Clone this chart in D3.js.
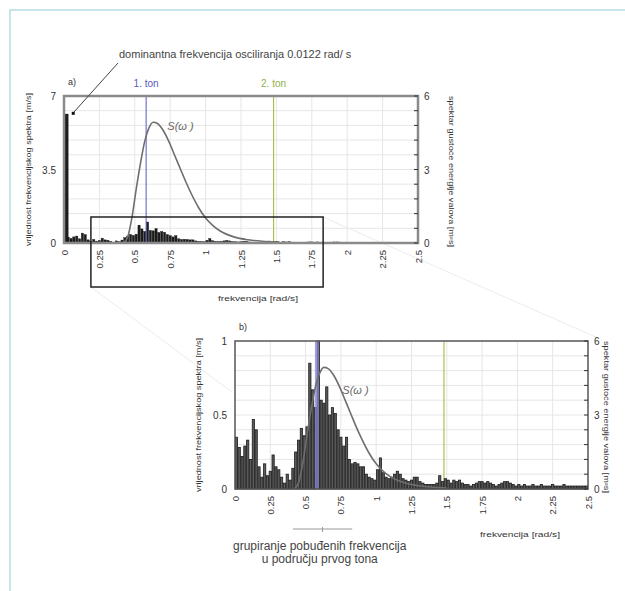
<!DOCTYPE html>
<html>
<head>
<meta charset="utf-8">
<script src="https://cdn.jsdelivr.net/npm/d3@7"></script>
<style>
body{margin:0;background:#fff;}
svg text{font-family:"Liberation Sans",Arial,sans-serif;fill:#333;}
</style>
</head>
<body>
<div id="viz"></div>
<script>
// frequency bins (rad/s), step 0.02
var freqStep=0.02;
var amplitudes=[
0.35,0.28,0.22,0.29,0.33,0.20,0.47,0.40,0.15,0.08,
0.17,0.09,0.12,0.23,0.15,0.13,0.08,0.04,0.10,0.06,
0.14,0.25,0.33,0.41,0.36,0.42,0.85,0.67,0.55,1.00,
0.60,0.58,0.69,0.50,0.55,0.51,0.40,0.35,0.29,0.35,
0.20,0.17,0.18,0.17,0.15,0.15,0.10,0.08,0.07,0.06,
0.13,0.21,0.11,0.08,0.07,0.08,0.10,0.12,0.10,0.07,
0.06,0.05,0.06,0.08,0.08,0.05,0.04,0.03,0.03,0.03,
0.03,0.04,0.09,0.05,0.07,0.06,0.04,0.06,0.05,0.06,
0.04,0.03,0.03,0.02,0.03,0.04,0.05,0.05,0.04,0.05,
0.04,0.03,0.02,0.03,0.04,0.05,0.05,0.04,0.03,0.02,
0.03,0.02,0.03,0.02,0.02,0.03,0.02,0.02,0.03,0.02,
0.02,0.02,0.03,0.02,0.02,0.02,0.03,0.02,0.02,0.02,
0.02,0.02,0.02,0.02,0.02];
var dominantFreq=0.0122;
var dominantAmp=6.15;

// wave energy spectrum S(w)
var specOmega=[0.42,0.45,0.48,0.51,0.54,0.57,0.60,0.63,0.66,0.70,0.74,0.78,0.82,0.86,0.90,0.95,1.00,1.05,1.10,1.20,1.30,1.40,1.50];
var specS=[0,0.25,1.05,2.2,3.25,4.15,4.7,4.93,4.88,4.6,4.15,3.6,3.05,2.5,2.0,1.45,1.02,0.72,0.5,0.25,0.13,0.07,0.04];

var tone1=0.58, tone2=1.48;
var xTicks=[0,0.25,0.5,0.75,1,1.25,1.5,1.75,2,2.25,2.5];

var width=625, height=591;
var svg=d3.select("#viz").append("svg").attr("width",width).attr("height",height);

// light frame
svg.append("path").attr("d","M10,591 L10,10 L625,10").attr("fill","none")
  .attr("stroke","#b7dde2").attr("stroke-width",1.5);

var bars=amplitudes.map(function(v,i){return {f:i*freqStep,v:v};});

function panel(cfg){
  var g=svg.append("g");
  var x=d3.scaleLinear().domain([0,2.5]).range([cfg.x0,cfg.x1]);
  var yL=d3.scaleLinear().domain([0,cfg.leftMax]).range([cfg.y1,cfg.y0]);
  var yR=d3.scaleLinear().domain([0,6]).range([cfg.y1,cfg.y0]);

  // grid
  g.selectAll(".vg").data(xTicks.slice(1,-1)).enter().append("line")
    .attr("x1",function(d){return x(d);}).attr("x2",function(d){return x(d);})
    .attr("y1",cfg.y0).attr("y2",cfg.y1).attr("stroke","#e6e6e6").attr("stroke-width",1);
  var hg=d3.range(1,10).map(function(i){return i*0.6;});
  g.selectAll(".hg").data(hg).enter().append("line")
    .attr("x1",cfg.x0).attr("x2",cfg.x1)
    .attr("y1",function(d){return yR(d);}).attr("y2",function(d){return yR(d);})
    .attr("stroke","#e6e6e6").attr("stroke-width",1);

  // tone lines
  g.append("line").attr("x1",x(tone2)).attr("x2",x(tone2)).attr("y1",cfg.y0).attr("y2",cfg.y1)
    .attr("stroke","#a9c24e").attr("stroke-width",cfg.toneW2);

  // bars
  var bw=x(freqStep)-x(0);
  g.selectAll(".bar").data(bars).enter().append("rect")
    .attr("x",function(d){return x(d.f)+0.3;})
    .attr("y",function(d){return yL(Math.min(d.v,cfg.leftMax));})
    .attr("width",bw-0.6)
    .attr("height",function(d){return Math.max(cfg.y1-yL(Math.min(d.v,cfg.leftMax)),0.8);})
    .attr("fill",cfg.barFill).attr("stroke","#1c1c1c").attr("stroke-width",cfg.barStroke);

  if(cfg.showDominant){
    g.append("rect").attr("x",x(0)).attr("y",yL(dominantAmp))
      .attr("width",x(dominantFreq*2)-x(0)+1).attr("height",cfg.y1-yL(dominantAmp))
      .attr("fill","#1c1c1c");
  }

  g.append("line").attr("x1",x(tone1)).attr("x2",x(tone1)).attr("y1",cfg.y0).attr("y2",cfg.y1)
    .attr("stroke",cfg.toneC1).attr("stroke-width",cfg.toneW1).attr("opacity",cfg.toneO1);

  // spectrum curve
  var line=d3.line().x(function(d){return x(d[0]);}).y(function(d){return yR(d[1]);}).curve(d3.curveMonotoneX);
  g.append("path").datum(specOmega.map(function(o,i){return [o,specS[i]];}))
    .attr("d",line).attr("fill","none").attr("stroke","#6e6e6e").attr("stroke-width",1.6);
  g.append("text").attr("x",x(cfg.sLabel[0])).attr("y",yR(cfg.sLabel[1]))
    .attr("font-size",11).attr("font-style","italic").style("fill","#666").text("S(\u03c9 )");

  // frame
  g.append("rect").attr("x",cfg.x0).attr("y",cfg.y0).attr("width",cfg.x1-cfg.x0).attr("height",cfg.y1-cfg.y0)
    .attr("fill","none").attr("stroke",cfg.frameC).attr("stroke-width",cfg.frameW);

  // right minor ticks
  g.selectAll(".rt").data(d3.range(0,11).map(function(i){return i*0.6;})).enter().append("line")
    .attr("x1",cfg.x1-4).attr("x2",cfg.x1)
    .attr("y1",function(d){return yR(d);}).attr("y2",function(d){return yR(d);})
    .attr("stroke","#333").attr("stroke-width",1);

  // axes labels
  g.selectAll(".lt").data(cfg.leftTicks).enter().append("text")
    .attr("x",cfg.x0-8).attr("y",function(d){return yL(d)+4;})
    .attr("text-anchor","end").attr("font-size",10).text(function(d){return d;});
  g.selectAll(".rtl").data([0,3,6]).enter().append("text")
    .attr("x",cfg.x1+6).attr("y",function(d){return yR(d)+4;})
    .attr("font-size",10).text(function(d){return d;});
  g.selectAll(".xt").data(xTicks).enter().append("text")
    .attr("transform",function(d){return "translate("+(x(d)+3.5)+","+(cfg.y1+7)+") rotate(-90)";})
    .attr("text-anchor","end").attr("font-size",9.5).text(function(d){return d;});

  g.append("text").attr("transform","translate("+cfg.ylx+","+((cfg.y0+cfg.y1)/2)+") rotate(-90)")
    .attr("text-anchor","middle").attr("font-size",7).attr("textLength",cfg.y1-cfg.y0+6)
    .attr("lengthAdjust","spacingAndGlyphs").text("vrijednost frekvencijskog spektra [m/s]");
  g.append("text").attr("transform","translate("+cfg.yrx+","+((cfg.y0+cfg.y1)/2+2)+") rotate(90)")
    .attr("text-anchor","middle").attr("font-size",7).attr("textLength",cfg.y1-cfg.y0+4)
    .attr("lengthAdjust","spacingAndGlyphs").text("spektar gustoće energije valova [m\u00b2s]");
  g.append("text").attr("x",cfg.xlx).attr("y",cfg.xly).attr("text-anchor","middle")
    .attr("font-size",7).attr("textLength",80).attr("lengthAdjust","spacingAndGlyphs")
    .text("frekvencija [rad/s]");
  g.append("text").attr("x",cfg.x0+4).attr("y",cfg.y0-11).attr("font-size",9).text(cfg.tag);
  return {x:x,yL:yL,yR:yR};
}

// faint connector lines
svg.append("line").attr("x1",91).attr("y1",287).attr("x2",232).attr("y2",392).attr("stroke","#ececec");
svg.append("line").attr("x1",323).attr("y1",217).attr("x2",598).attr("y2",338).attr("stroke","#ececec");

var A=panel({x0:64,x1:418,y0:96,y1:243,leftMax:7,leftTicks:[0,3.5,7],
  barFill:"#1c1c1c",barStroke:0.4,showDominant:true,
  toneC1:"#5757c0",toneW1:1,toneO1:1,toneW2:1.2,frameC:"#8a8a8a",frameW:2.5,
  sLabel:[0.73,4.6],ylx:31,yrx:449,xlx:258,xly:301,tag:"a)"});

var B=panel({x0:235,x1:588,y0:341,y1:489,leftMax:1,leftTicks:[0,0.5,1],
  barFill:"#5a5a5a",barStroke:0.8,showDominant:false,
  toneC1:"#8585d2",toneW1:4,toneO1:0.75,toneW2:1.2,frameC:"#555",frameW:1.5,
  sLabel:[0.76,3.85],ylx:201,yrx:604,xlx:520,xly:537,tag:"b)"});

// tone labels
svg.append("text").attr("x",A.x(tone1)).attr("y",87).attr("text-anchor","middle")
  .attr("font-size",10).style("fill","#5a5ab8").text("1. ton");
svg.append("text").attr("x",A.x(tone2)).attr("y",87).attr("text-anchor","middle")
  .attr("font-size",10).style("fill","#8fb24a").text("2. ton");

// zoom box in panel a
svg.append("rect").attr("x",A.x(0.19)).attr("y",217).attr("width",A.x(1.83)-A.x(0.19)).attr("height",70)
  .attr("fill","none").attr("stroke","#222").attr("stroke-width",1.5);

// dominant frequency annotation
svg.append("text").attr("x",119).attr("y",58).attr("font-size",11).style("fill","#444")
  .text("dominantna frekvencija osciliranja  0.0122 rad/ s");
svg.append("line").attr("x1",118).attr("y1",63).attr("x2",74).attr("y2",112)
  .attr("stroke","#444").attr("stroke-width",1);
svg.append("rect").attr("x",A.x(dominantFreq)+6).attr("y",A.yL(dominantAmp)-2).attr("width",3).attr("height",3).attr("fill","#111");

// grouping annotation
svg.append("path").attr("d","M"+B.x(0.41)+",529 L"+B.x(0.83)+",529 M"+B.x(0.62)+",527 L"+B.x(0.62)+",532")
  .attr("stroke","#999").attr("stroke-width",1).attr("fill","none");
svg.append("text").attr("x",B.x(0.6)).attr("y",550).attr("text-anchor","middle").attr("font-size",12)
  .style("fill","#444").text("grupiranje pobuđenih frekvencija");
svg.append("text").attr("x",B.x(0.6)).attr("y",563).attr("text-anchor","middle").attr("font-size",12)
  .style("fill","#444").text("u području prvog tona");
</script>
</body>
</html>
